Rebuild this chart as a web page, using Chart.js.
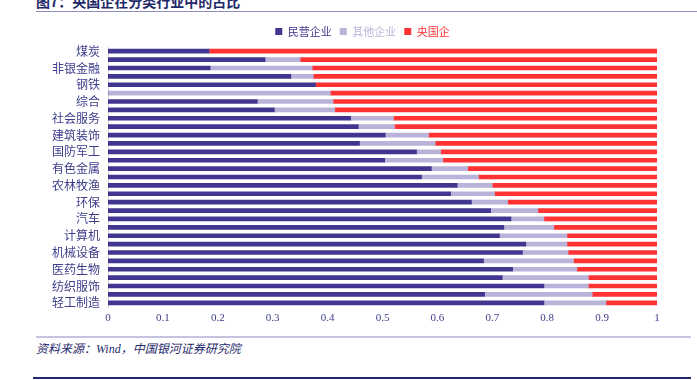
<!DOCTYPE html>
<html><head><meta charset="utf-8">
<script src="https://cdn.jsdelivr.net/npm/chart.js@4"></script>
<style>
html,body{margin:0;padding:0;background:#fff;width:697px;height:380px;overflow:hidden;position:relative;font-family:"Noto Sans CJK SC",sans-serif;}
#title{position:absolute;left:36px;top:-9px;font-size:14px;font-weight:bold;color:#1f2a6b;white-space:nowrap;}
#tline{position:absolute;left:36px;top:11px;width:661px;height:1px;background:#8f8fc8;}
#wrap{position:absolute;left:0;top:0;width:697px;height:330px;}
#fline{position:absolute;left:36px;top:336px;width:655px;height:2px;background:#c4c4e0;}
#foot{position:absolute;left:36px;top:339px;font-size:12px;font-style:italic;color:#1f2a6b;white-space:nowrap;font-family:"Liberation Serif","Noto Sans CJK SC",serif;}
#bline{position:absolute;left:33px;top:377px;width:658px;height:2px;background:#1f2a6b;}
</style></head>
<body>
<div id="title">图7：央国企在分类行业中的占比</div>
<div id="tline"></div>
<div id="wrap"><canvas id="c"></canvas></div>
<div id="fline"></div>
<div id="foot">资料来源：Wind，中国银河证券研究院</div>
<div id="bline"></div>
<script>
const categories = ["煤炭","石油石化","非银金融","公用事业","钢铁","银行","综合","交通运输","社会服务","建筑材料","建筑装饰","房地产","国防军工","通信","有色金属","商贸零售","农林牧渔","传媒","环保","食品饮料","汽车","电力设备","计算机","基础化工","机械设备","电子","医药生物","家用电器","纺织服饰","美容护理","轻工制造"];
const privateShare = [0.184,0.286,0.186,0.333,0.378,0.000,0.272,0.303,0.442,0.456,0.505,0.458,0.562,0.504,0.589,0.571,0.636,0.624,0.662,0.697,0.734,0.721,0.713,0.761,0.755,0.684,0.737,0.718,0.794,0.686,0.794];
const otherShare   = [0.000,0.064,0.186,0.041,0.000,0.405,0.138,0.110,0.078,0.066,0.079,0.138,0.044,0.106,0.066,0.104,0.064,0.080,0.066,0.086,0.060,0.091,0.123,0.075,0.083,0.164,0.117,0.157,0.081,0.196,0.113];
const soeShare     = [0.816,0.650,0.628,0.626,0.622,0.595,0.590,0.587,0.480,0.478,0.416,0.404,0.394,0.390,0.345,0.325,0.300,0.296,0.272,0.217,0.206,0.188,0.164,0.164,0.162,0.152,0.146,0.125,0.125,0.118,0.093];
const seriesNames = ["民营企业","其他企业","央国企"];
const xTicks = [0,0.1,0.2,0.3,0.4,0.5,0.6,0.7,0.8,0.9,1];

const colors = ["#41368f","#b9b3d9","#ff3333"];
const serif = '"Liberation Serif","Noto Sans CJK SC",serif';
const legendShift = {
  id: 'legendShift',
  afterLayout(chart) {
    const L = chart.legend;
    if (L) { L.left += 34; L.right += 34; }
  }
};
new Chart(document.getElementById('c'), {
  type: 'bar',
  data: {
    labels: categories,
    datasets: [
      {label: seriesNames[0], data: privateShare, backgroundColor: colors[0]},
      {label: seriesNames[1], data: otherShare, backgroundColor: colors[1]},
      {label: seriesNames[2], data: soeShare, backgroundColor: colors[2]}
    ].map(d => Object.assign(d, {barThickness: 4, borderWidth: 0}))
  },
  plugins: [legendShift],
  options: {
    indexAxis: 'y',
    responsive: true,
    maintainAspectRatio: false,
    animation: false,
    layout: {padding: {left: 0, right: 40, top: 18, bottom: 3}},
    plugins: {
      tooltip: {enabled: false},
      legend: {
        position: 'top',
        labels: {
          boxWidth: 7, boxHeight: 7, padding: 8,
          font: {size: 11, family: '"Noto Sans CJK SC",sans-serif'},
          generateLabels: chart => chart.data.datasets.map((d, i) => ({
            text: d.label, fillStyle: colors[i], strokeStyle: colors[i], lineWidth: 0,
            fontColor: colors[i], datasetIndex: i, hidden: false
          }))
        }
      }
    },
    scales: {
      x: {
        stacked: true, min: 0, max: 1,
        afterBuildTicks: s => { s.ticks = xTicks.map(v => ({value: v})); },
        afterFit: s => { s.height = 20; },
        grid: {display: false, drawTicks: false},
        border: {display: false},
        ticks: {
          color: '#3d3d8a', padding: 5,
          font: {size: 11, family: serif},
          callback: v => (v === 0 || v === 1) ? String(v) : v.toFixed(1)
        }
      },
      y: {
        stacked: true,
        afterFit: s => { s.width = 108; },
        grid: {display: false, drawTicks: false},
        border: {display: true, color: '#d9d9d9', width: 1},
        ticks: {
          autoSkip: false, color: '#3d3d8a', padding: 8,
          font: {size: 12, family: '"Noto Sans CJK SC",sans-serif'},
          callback: (v, i) => i % 2 === 0 ? categories[i] : ''
        }
      }
    }
  }
});
</script>
</body></html>
